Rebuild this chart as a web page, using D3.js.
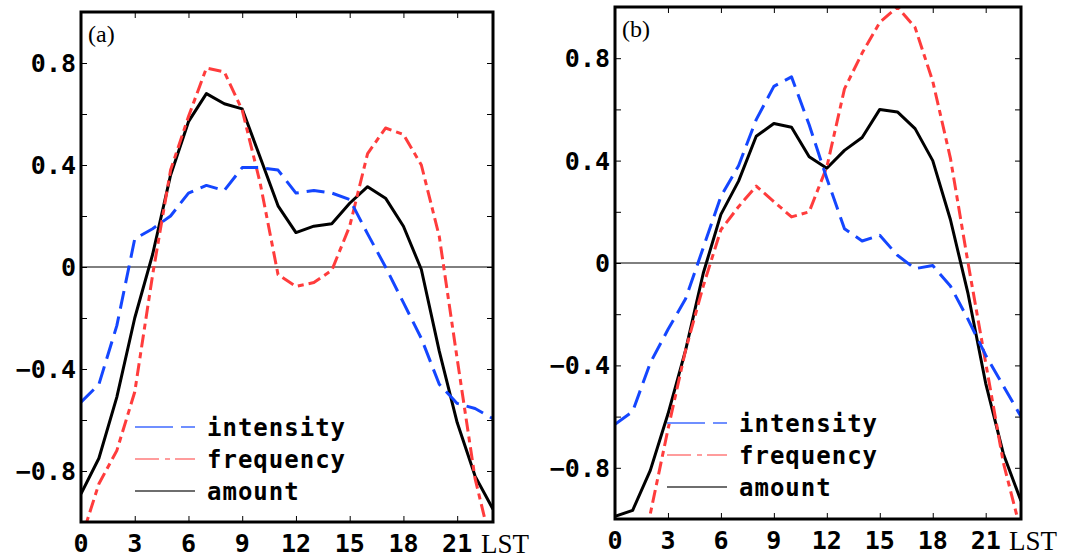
<!DOCTYPE html>
<html>
<head>
<meta charset="utf-8">
<script src="https://cdn.jsdelivr.net/npm/d3@7/dist/d3.min.js"></script>
<style>
  body { margin: 0; background: #fff; }
  svg { display: block; }
</style>
</head>
<body>
<svg id="chart"></svg>
<script>
// horas locales (LST) y marcas de los ejes
const hours = d3.range(0, 24);
const xTicks = [0, 3, 6, 9, 12, 15, 18, 21];
const yTicks = [-1, -0.8, -0.6, -0.4, -0.2, 0, 0.2, 0.4, 0.6, 0.8, 1];
const yLabels = [-0.8, -0.4, 0, 0.4, 0.8];
const seriesNames = ["intensity", "frequency", "amount"];

// panel (a)
const intensityA = [-0.53, -0.46, -0.23, 0.11, 0.15, 0.2, 0.29, 0.32, 0.3, 0.39, 0.39, 0.38,
                    0.29, 0.3, 0.29, 0.265, 0.13, 0.0, -0.14, -0.28, -0.46, -0.535, -0.555, -0.595];
const frequencyA = [-1.07, -0.85, -0.72, -0.49, -0.03, 0.38, 0.59, 0.78, 0.765, 0.615, 0.33, -0.03,
                    -0.076, -0.061, -0.013, 0.16, 0.445, 0.545, 0.52, 0.4, 0.12, -0.36, -0.83, -1.12];
const amountA    = [-0.89, -0.75, -0.51, -0.2, 0.05, 0.36, 0.57, 0.68, 0.64, 0.62, 0.43, 0.24,
                    0.135, 0.16, 0.17, 0.25, 0.315, 0.27, 0.16, -0.01, -0.33, -0.61, -0.82, -0.95];

// panel (b)
const intensityB = [-0.63, -0.58, -0.39, -0.26, -0.14, 0.06, 0.26, 0.38, 0.56, 0.69, 0.727, 0.54,
                    0.33, 0.134, 0.086, 0.108, 0.03, -0.022, -0.01, -0.09, -0.22, -0.36, -0.48, -0.6];
const frequencyB = [-1.6, -1.3, -0.98, -0.65, -0.34, -0.09, 0.13, 0.22, 0.3, 0.24, 0.18, 0.2,
                    0.375, 0.68, 0.82, 0.94, 1.0, 0.92, 0.71, 0.41, 0.0, -0.39, -0.78, -1.05];
const amountB    = [-0.99, -0.966, -0.81, -0.59, -0.34, -0.04, 0.19, 0.32, 0.495, 0.545, 0.53, 0.415,
                    0.37, 0.44, 0.49, 0.6, 0.59, 0.525, 0.4, 0.17, -0.12, -0.47, -0.745, -0.93];

const svg = d3.select("#chart").attr("width", 1070).attr("height", 558);

// estilo de cada curva
const lineStyle = {
  intensity: { color: "#1446ff", dash: "18,8" },
  frequency: { color: "#ff3c3c", dash: "13,5,6,5" },
  amount:    { color: "#000000", dash: null }
};
// la leyenda usa trazos mas claros y finos
const legendStyle = {
  intensity: { color: "#6f8fff", dash: "38,8" },
  frequency: { color: "#ff9c9c", dash: "24,6,5,5" },
  amount:    { color: "#6e6e6e", dash: null }
};

const panels = [
  { id: "a", label: "(a)", left: 81, right: 493, top: 12, bottom: 522,
    data: { intensity: intensityA, frequency: frequencyA, amount: amountA },
    legX: 135, legY: 427 },
  { id: "b", label: "(b)", left: 615, right: 1021, top: 7, bottom: 519,
    data: { intensity: intensityB, frequency: frequencyB, amount: amountB },
    legX: 667, legY: 423 }
];

const numFont = "'DejaVu Sans Mono', monospace";
const fmt = d => d === 0 ? "0" : (d < 0 ? "\u2212" : "") + Math.abs(d).toFixed(1);

panels.forEach(p => {
  const x = d3.scaleLinear().domain([0, 23]).range([p.left, p.right]);
  const y = d3.scaleLinear().domain([-1, 1]).range([p.bottom, p.top]);
  const g = svg.append("g");

  // recorte para que las curvas no salgan del marco
  svg.append("clipPath").attr("id", "clip-" + p.id)
    .append("rect")
    .attr("x", p.left).attr("y", p.top)
    .attr("width", p.right - p.left).attr("height", p.bottom - p.top);

  // linea del cero
  g.append("line")
    .attr("x1", p.left).attr("x2", p.right)
    .attr("y1", y(0)).attr("y2", y(0))
    .attr("stroke", "#000").attr("stroke-width", 1);

  // marcas hacia adentro en los cuatro lados
  const axL = d3.axisLeft(y).tickValues(yTicks).tickSize(-6).tickFormat("");
  const axR = d3.axisRight(y).tickValues(yTicks).tickSize(-6).tickFormat("");
  const axB = d3.axisBottom(x).tickValues(xTicks).tickSize(-6).tickFormat("");
  const axT = d3.axisTop(x).tickValues(xTicks).tickSize(-6).tickFormat("");
  [[axL, `translate(${p.left},0)`], [axR, `translate(${p.right},0)`],
   [axB, `translate(0,${p.bottom})`], [axT, `translate(0,${p.top})`]].forEach(([ax, tr]) => {
    const a = g.append("g").attr("transform", tr).call(ax);
    a.select(".domain").remove();
    a.selectAll(".tick line").attr("stroke", "#000").attr("stroke-width", 1);
  });

  // etiquetas del eje y
  g.selectAll("text.ylab").data(yLabels).join("text")
    .attr("class", "ylab")
    .attr("x", p.left - 5)
    .attr("y", d => y(d) + 9)
    .attr("text-anchor", "end")
    .style("font-family", numFont).style("font-size", "25px").style("font-weight", "bold")
    .text(fmt);

  // etiquetas del eje x
  g.selectAll("text.xlab").data(xTicks).join("text")
    .attr("class", "xlab")
    .attr("x", d => x(d))
    .attr("y", p.bottom + 30)
    .attr("text-anchor", "middle")
    .style("font-family", numFont).style("font-size", "25px").style("font-weight", "bold")
    .text(d => d);
  g.append("text")
    .attr("x", p.right - 12).attr("y", p.bottom + 31)
    .style("font-family", "'Liberation Serif', serif").style("font-size", "27px")
    .text("LST");

  // curvas
  const line = d3.line().x((d, i) => x(hours[i])).y(d => y(d));
  const curves = g.append("g").attr("clip-path", `url(#clip-${p.id})`);
  ["amount", "frequency", "intensity"].forEach(s => {
    curves.append("path")
      .datum(p.data[s])
      .attr("d", line)
      .attr("fill", "none")
      .attr("stroke", lineStyle[s].color)
      .attr("stroke-width", 3)
      .attr("stroke-linejoin", "round")
      .attr("stroke-dasharray", lineStyle[s].dash);
  });

  // leyenda
  seriesNames.forEach((s, i) => {
    const ly = p.legY + i * 32;
    g.append("line")
      .attr("x1", p.legX).attr("x2", p.legX + 60)
      .attr("y1", ly).attr("y2", ly)
      .attr("stroke", legendStyle[s].color)
      .attr("stroke-width", 2)
      .attr("stroke-dasharray", legendStyle[s].dash);
    g.append("text")
      .attr("x", p.legX + 72).attr("y", ly + 9)
      .style("font-family", numFont).style("font-size", "24px").style("font-weight", "bold")
      .style("letter-spacing", "1px")
      .text(s);
  });

  // marco grueso
  g.append("rect")
    .attr("x", p.left).attr("y", p.top)
    .attr("width", p.right - p.left).attr("height", p.bottom - p.top)
    .attr("fill", "none").attr("stroke", "#000").attr("stroke-width", 3);

  // rotulo del panel
  g.append("text")
    .attr("x", p.left + 7).attr("y", p.top + 30)
    .style("font-family", "'Liberation Serif', serif").style("font-size", "24px")
    .text(p.label);
});
</script>
</body>
</html>
